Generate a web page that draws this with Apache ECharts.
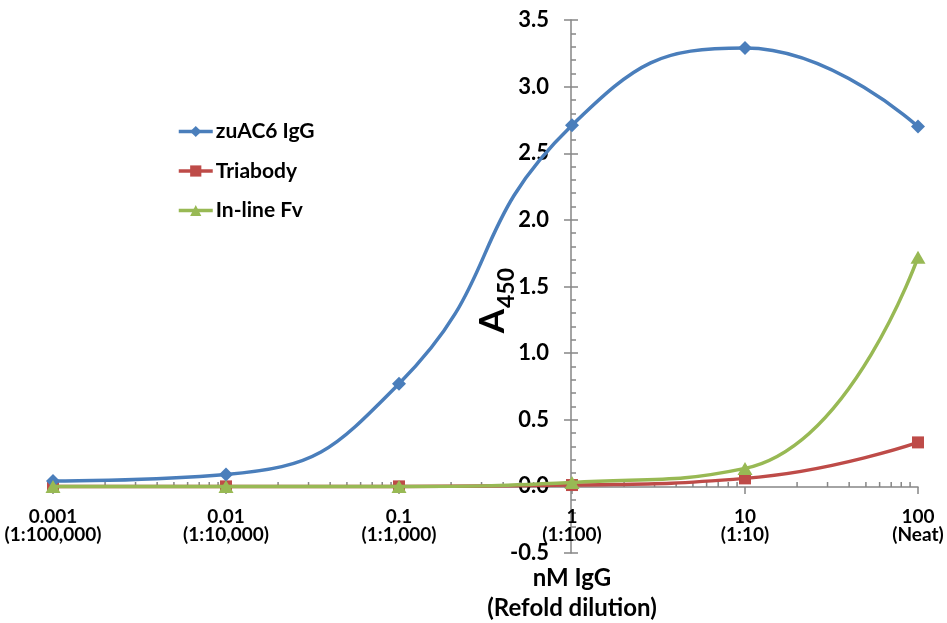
<!DOCTYPE html>
<html>
<head>
<meta charset="utf-8">
<script src="https://cdn.jsdelivr.net/npm/echarts@6/dist/echarts.min.js"></script>
<style>
html,body{margin:0;padding:0;background:#fff;}
#chart{width:947px;height:623px;}
</style>
</head>
<body>
<div id="chart"></div>
<script>
// ---- data ----
var concentrations = [0.001, 0.01, 0.1, 1, 10, 100];
var dilutions = ['(1:100,000)', '(1:10,000)', '(1:1,000)', '(1:100)', '(1:10)', '(Neat)'];
var tickNumbers = ['0.001', '0.01', '0.1', '1', '10', '100'];
var igg = [0.04, 0.09, 0.77, 2.71, 3.29, 2.70];
var triabody = [0.0, 0.0, 0.0, 0.01, 0.06, 0.33];
var inlineFv = [0.0, 0.0, 0.0, 0.03, 0.135, 1.72];
var seriesNames = ['zuAC6 IgG', 'Triabody', 'In-line Fv'];
var yTitleMain = 'A';
var yTitleSub = '450';
var xTitleLines = ['nM IgG', '(Refold dilution)'];
var minorXTicks = [];
[0.001, 0.01, 0.1, 1, 10].forEach(function (d) {
  for (var k = 2; k <= 9; k++) minorXTicks.push(+(d * k).toPrecision(3));
});

var FONT = 'Lato';
var axisColor = '#868686';

function pairs(vals) {
  return concentrations.map(function (c, i) { return [c, vals[i]]; });
}

var chart = echarts.init(document.getElementById('chart'), null, {renderer: 'canvas'});

var gridTop = 20, gridBottom = 70, gridLeft = 53, gridRight = 29;

var option = {
  backgroundColor: '#fff',
  animation: false,
  textStyle: {fontFamily: FONT},
  legend: {
    orient: 'vertical',
    left: 177,
    top: 121,
    padding: 0,
    itemGap: 18.5,
    itemWidth: 34,
    itemHeight: 14,
    lineStyle: {width: 3.5},
    textStyle: {fontFamily: FONT, fontWeight: 'bold', fontSize: 21, color: '#000', padding: [0, 0, 0, -2]},
    data: seriesNames
  },
  grid: [
    {left: gridLeft, right: gridRight, top: gridTop, bottom: gridBottom},
    {left: 571, right: gridRight, top: gridTop, bottom: gridBottom},
    {left: gridLeft, right: gridRight, top: gridTop, bottom: 136}
  ],
  xAxis: [
    {type: 'log', logBase: 10, min: 0.001, max: 100, gridIndex: 0, show: false},
    {type: 'value', gridIndex: 1, min: 0, max: 1, show: false},
    {
      type: 'log',
      logBase: 10,
      min: 0.001,
      max: 100,
      interval: 1,
      gridIndex: 2,
      position: 'bottom',
      axisLine: {onZero: false, lineStyle: {color: axisColor, width: 1.5}},
      axisTick: {show: true, length: 7, lineStyle: {color: axisColor, width: 1.5}},
      splitLine: {show: false},
      axisLabel: {
        margin: 21,
        fontFamily: FONT,
        fontWeight: 'bold',
        fontSize: 19,
        lineHeight: 18,
        color: '#000',
        formatter: function (v) {
          for (var i = 0; i < concentrations.length; i++) {
            if (Math.abs(Math.log10(v) - Math.log10(concentrations[i])) < 1e-6) {
              return tickNumbers[i] + '\n' + dilutions[i];
            }
          }
          return '';
        }
      }
    }
  ],
  yAxis: [
    {type: 'value', gridIndex: 0, min: -0.5, max: 3.5, interval: 0.5, show: false},
    {
      type: 'value', gridIndex: 1, min: -0.5, max: 3.5, interval: 0.5,
      position: 'left',
      axisLine: {show: true, lineStyle: {color: axisColor, width: 1.5}},
      axisTick: {show: true, inside: true, length: 7, lineStyle: {color: axisColor, width: 1.5}},
      minorTick: {show: true, splitNumber: 5, length: 5, lineStyle: {color: axisColor, width: 1.5}},
      splitLine: {show: false},
      minorSplitLine: {show: false},
      axisLabel: {
        margin: 22,
        fontFamily: FONT, fontWeight: 'bold', fontSize: 22, color: '#000',
        formatter: function (v) { return v.toFixed(1); }
      }
    },
    {
      type: 'value', gridIndex: 1, min: -0.5, max: 3.5, interval: 0.5,
      position: 'left',
      axisLine: {show: false},
      axisTick: {show: true, inside: false, length: 7, lineStyle: {color: axisColor, width: 1.5}},
      splitLine: {show: false},
      axisLabel: {show: false}
    },
    {type: 'value', gridIndex: 2, min: 0, max: 1, show: false}
  ],
  graphic: [
    {
      type: 'text',
      x: 493, y: 321,
      rotation: Math.PI / 2,
      style: {
        text: yTitleMain,
        align: 'center', verticalAlign: 'middle',
        fontFamily: FONT, fontWeight: 'bold', fontSize: 35, fill: '#000'
      }
    },
    {
      type: 'text',
      x: 507, y: 288,
      rotation: Math.PI / 2,
      style: {
        text: yTitleSub,
        align: 'center', verticalAlign: 'middle',
        fontFamily: FONT, fontWeight: 'bold', fontSize: 23, fill: '#000'
      }
    },
    {
      type: 'text',
      x: 572, y: 578,
      style: {
        text: xTitleLines[0],
        align: 'center', verticalAlign: 'middle',
        fontFamily: FONT, fontWeight: 'bold', fontSize: 24, fill: '#000'
      }
    },
    {
      type: 'text',
      x: 572, y: 608,
      style: {
        text: xTitleLines[1],
        align: 'center', verticalAlign: 'middle',
        fontFamily: FONT, fontWeight: 'bold', fontSize: 24, fill: '#000'
      }
    }
  ],
  series: [
    {
      type: 'custom',
      xAxisIndex: 2, yAxisIndex: 3,
      silent: true,
      z: 1,
      data: minorXTicks.map(function (v) { return [v, 0]; }),
      renderItem: function (params, api) {
        var p = api.coord([api.value(0), 0]);
        return {
          type: 'line',
          shape: {x1: p[0], y1: p[1], x2: p[0], y2: p[1] - 5},
          style: {stroke: axisColor, lineWidth: 1.5}
        };
      }
    },
    {
      name: seriesNames[0], type: 'line', xAxisIndex: 0, yAxisIndex: 0,
      data: pairs(igg), smooth: 0.5, z: 5,
      symbol: 'diamond', symbolSize: 14,
      itemStyle: {color: '#4A7EBB'},
      lineStyle: {color: '#4A7EBB', width: 3.5}
    },
    {
      name: seriesNames[1], type: 'line', xAxisIndex: 0, yAxisIndex: 0,
      data: pairs(triabody), smooth: 0.5, z: 4,
      symbol: 'rect', symbolSize: 12,
      itemStyle: {color: '#BE4B48'},
      lineStyle: {color: '#BE4B48', width: 3.5}
    },
    {
      name: seriesNames[2], type: 'line', xAxisIndex: 0, yAxisIndex: 0,
      data: pairs(inlineFv), smooth: 0.5, z: 6,
      symbol: 'triangle', symbolSize: [15, 13],
      itemStyle: {color: '#98B954'},
      lineStyle: {color: '#98B954', width: 3.5}
    }
  ]
};
chart.setOption(option);
</script>
</body>
</html>
